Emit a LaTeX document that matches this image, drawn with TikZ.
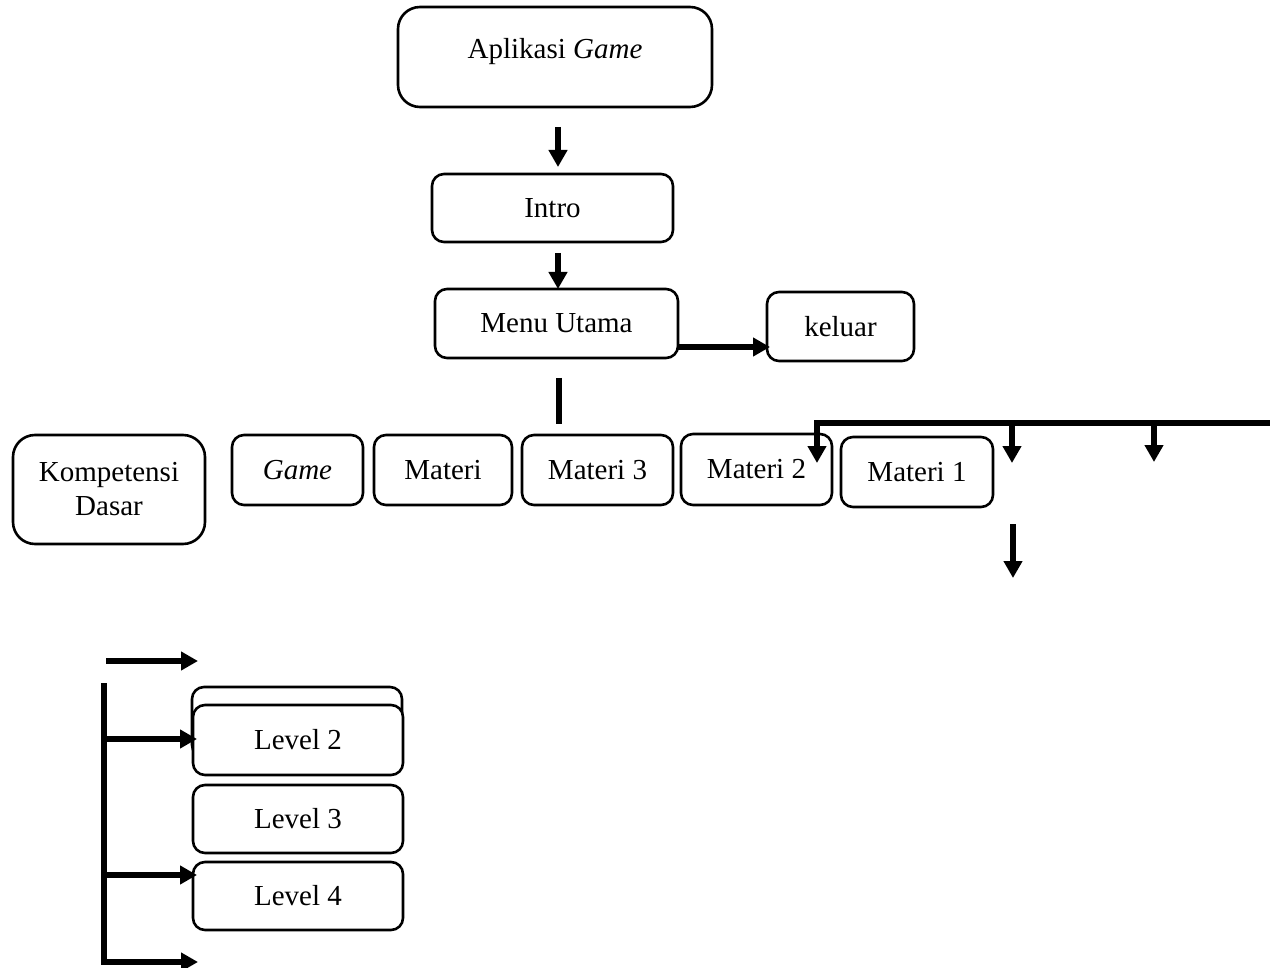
\documentclass[tikz,border=0pt]{standalone}
\usepackage{fontspec}
\setmainfont{Liberation Serif}
\usetikzlibrary{arrows.meta}

\begin{document}
\begin{tikzpicture}[x=1pt,y=-1pt,
  kotak/.style={draw, line width=2.6pt, rounded corners=12pt, fill=white, inner sep=0pt, align=center, font=\fontsize{29}{34}\selectfont},
  garis/.style={line width=5.5pt},
  panah/.style={garis, -{Triangle[length=17pt,width=18pt]}}]
\useasboundingbox (0,0) rectangle (1270,968);
% kotak atas
\node[kotak, rounded corners=22pt, minimum width=314pt, minimum height=100pt, text depth=17pt] (app) at (555,57) {Aplikasi \textit{Game}};
\node[kotak, minimum width=241pt, minimum height=68pt] (intro) at (552.5,208) {Intro};
\node[kotak, minimum width=243pt, minimum height=69pt] (menu) at (556.5,323.5) {Menu Utama};
\node[kotak, minimum width=147pt, minimum height=69pt] (keluar) at (840.5,326.5) {keluar};
% baris menu
\node[kotak, rounded corners=22pt, minimum width=192pt, minimum height=109pt] (kd) at (109,489.5) {Kompetensi\\Dasar};
\node[kotak, minimum width=131pt, minimum height=70pt] (game) at (297.5,470) {\textit{Game}};
\node[kotak, minimum width=138pt, minimum height=70pt] (materi) at (443,470) {Materi};
\node[kotak, minimum width=151pt, minimum height=70pt] (m3) at (597.5,470) {Materi 3};
\node[kotak, minimum width=151pt, minimum height=71pt] (m2) at (756.5,469.5) {Materi 2};
\node[kotak, minimum width=152pt, minimum height=70pt] (m1) at (917,472) {Materi 1};
% level
\node[kotak, minimum width=210pt, minimum height=70pt] (lvl1) at (297,722) {};
\node[kotak, minimum width=210pt, minimum height=70pt] (lvl2) at (298,740) {Level 2};
\node[kotak, minimum width=210pt, minimum height=68pt] (lvl3) at (298,819) {Level 3};
\node[kotak, minimum width=210pt, minimum height=68pt] (lvl4) at (298,896) {Level 4};
% ujung bebas
\coordinate (a1) at (558,127);
\coordinate (a2) at (558,167);
\coordinate (b1) at (558,253);
\coordinate (b2) at (558,289);
\coordinate (c1) at (678,347);
\coordinate (c2) at (770,347);
\coordinate (d1) at (559,378);
\coordinate (d2) at (559,424);
\coordinate (busR) at (1270,423);
\coordinate (busL) at (817,423);
\coordinate (busT) at (817,463);
\coordinate (e1) at (1012,423);
\coordinate (e2) at (1012,463);
\coordinate (f1) at (1154,423);
\coordinate (f2) at (1154,462);
\coordinate (g1) at (1013,524);
\coordinate (g2) at (1013,578);
\coordinate (h1) at (106,661);
\coordinate (h2) at (198,661);
\coordinate (vT) at (104,683);
\coordinate (vB) at (104,962);
\coordinate (vE) at (198,962);
\coordinate (k1) at (104,739);
\coordinate (k2) at (197,739);
\coordinate (l1) at (104,875);
\coordinate (l2) at (197,875);
% panah
\draw[panah] (a1) -- (a2);
\draw[panah] (b1) -- (b2);
\draw[panah] (c1) -- (c2);
\draw[garis] (d1) -- (d2);
\draw[panah, line join=miter] (busR) -- (busL) -- (busT);
\draw[panah] (e1) -- (e2);
\draw[panah] (f1) -- (f2);
\draw[panah] (g1) -- (g2);
\draw[panah] (h1) -- (h2);
\draw[panah, line join=miter] (vT) -- (vB) -- (vE);
\draw[panah] (k1) -- (k2);
\draw[panah] (l1) -- (l2);
\end{tikzpicture}
\end{document}
